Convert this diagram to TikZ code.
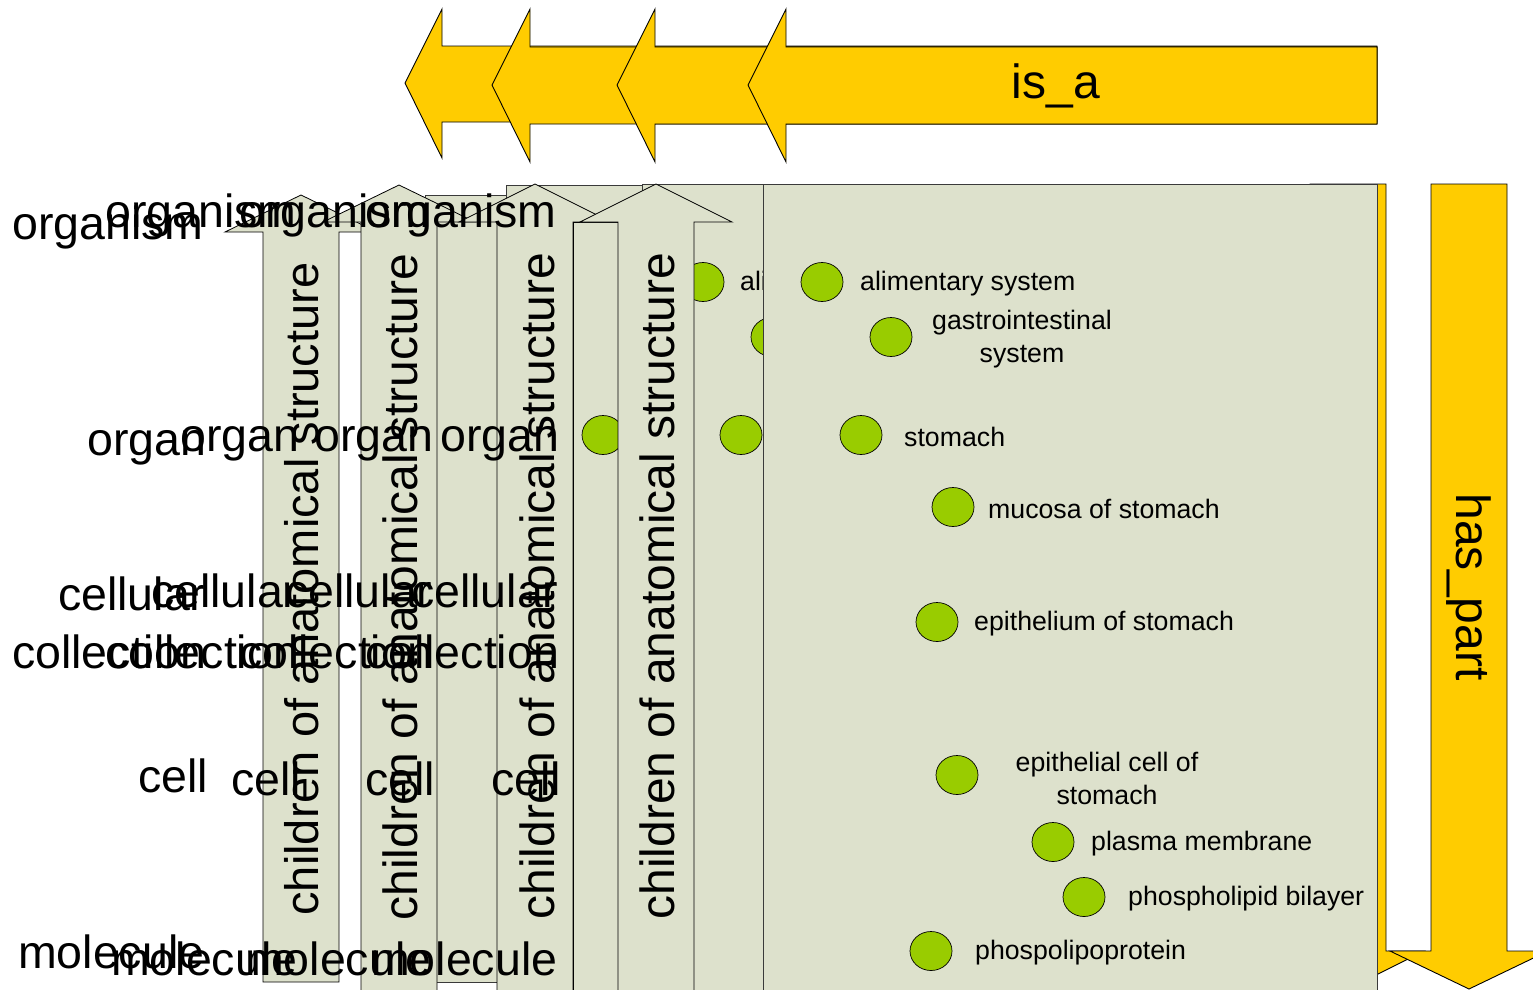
\documentclass[tikz,border=0pt]{standalone}
\usepackage{fontspec}
\setmainfont{Liberation Sans}
\usetikzlibrary{shapes.geometric}
\definecolor{isayellow}{HTML}{FFCC00}
\definecolor{panelgreen}{HTML}{DDE1CC}
\definecolor{dotgreen}{HTML}{99CC00}
\definecolor{edgegray}{HTML}{3A3A3A}

% tipx tipy backx headtop headbot shafttop shaftbot endx
\newcommand\IsaArrow[8]{%
 \draw[yel] (#1,#2) -- (#3,#4) -- (#3,#6) -- (#8,#6) -- (#8,#7) -- (#3,#7) -- (#3,#5) -- cycle;}
% cx tipy basey bottom
\newcommand\UpBlock[4]{%
 \draw[upbox] ({#1-38},#4) -- ({#1-38},#3) -- ({#1-76},#3) -- (#1,#2) -- ({#1+76},#3) -- ({#1+38},#3) -- ({#1+38},#4) -- cycle;}
% cx top basey tipy wing
\newcommand\DownBlock[5]{%
 \draw[yel] ({#1-38},#2) -- ({#1+38},#2) -- ({#1+38},#3) -- ({#1+#5},#3) -- (#1,#4) -- ({#1-#5},#3) -- ({#1-38},#3) -- cycle;}

\tikzset{
 yel/.style={fill=isayellow, draw=black, line width=0.9pt, line join=miter},
 pan/.style={fill=panelgreen, draw=edgegray, line width=0.9pt},
 upbox/.style={fill=panelgreen, draw=black, line width=0.8pt, line join=miter},
 dot/.style={ellipse, minimum width=42pt, minimum height=39pt, inner sep=0pt, fill=dotgreen, draw=black, line width=0.7pt},
 lvl/.style={font=\fontsize{46.5}{56}\selectfont, inner sep=0pt, anchor=base west},
 dlab/.style={font=\fontsize{26.7}{33}\selectfont, inner sep=0pt, anchor=west},
 dlab2/.style={font=\fontsize{26.7}{33}\selectfont, inner sep=0pt, align=center},
 vtext/.style={font=\fontsize{48}{56}\selectfont, rotate=90, inner sep=0pt},
 big/.style={font=\fontsize{48}{56}\selectfont, inner sep=0pt},
}

\begin{document}
\begin{tikzpicture}[x=1pt,y=-1pt]
\useasboundingbox (0,0) rectangle (1533,989);
\clip (0,0) rectangle (1533,989);

% is_a arrows
\IsaArrow{405}{83}{442}{9}{158}{46}{122}{1377}
\IsaArrow{492}{85}{530}{9}{162}{47}{124}{1377}
\IsaArrow{617}{85}{655}{9}{162}{47}{124}{1377}
\IsaArrow{748}{85}{786}{9}{162}{47}{124}{1377}
\node[big] (isa) at (1056,86) {is\_a};

% panel B and arrows 1, 2
\draw[pan] (425,195) rectangle (1377,982);
\UpBlock{301}{195}{232}{982}
\node[vtext, font=\fontsize{47}{56}\selectfont] (c1) at (302,589) {children of anatomical structure};
\UpBlock{399}{185}{222}{1000}
\node[vtext] (c2) at (400,587) {children of anatomical structure};

% panel C and arrow 3
\draw[pan] (506,185) rectangle (1377,1000);
\UpBlock{535}{184}{222}{1000}
\node[vtext] (c3) at (537,586) {children of anatomical structure};
\draw[upbox] (573,222) rectangle (618,1000);
\node[dot] (dC) at (603,435) {};

% panel D
\draw[pan] (642,184) rectangle (1377,1000);
\node[dot] (dDa) at (703,282) {};
\node[dlab] (lDa) at (740,284) {alimentary system};
\node[dot] (dDb) at (772,337) {};
\node[dot] (dDc) at (741,435) {};

% arrow 4
\UpBlock{656}{184}{222}{1000}
\node[vtext] (c4) at (657,586) {children of anatomical structure};

% back has_part arrow
\DownBlock{1348}{184}{951}{989}{76}

% panel E
\draw[pan] (763,184) rectangle (1377,1000);
\node[dot] (e1) at (822,282) {};
\node[dlab] (l1) at (860,284) {alimentary system};
\node[dot] (e2) at (891,337) {};
\node[dlab2] (l2) at (1022,339) {gastrointestinal\\system};
\node[dot] (e3) at (861,435) {};
\node[dlab] (l3) at (904,437) {stomach};
\node[dot] (e4) at (953,507) {};
\node[dlab] (l4) at (988,509) {mucosa of stomach};
\node[dot] (e5) at (937,622) {};
\node[dlab] (l5) at (974,624) {epithelium of stomach};
\node[dot] (e6) at (957,775) {};
\node[dlab2] (l6) at (1107,778) {epithelial cell of\\stomach};
\node[dot] (e7) at (1053,842) {};
\node[dlab] (l7) at (1091,844) {plasma membrane};
\node[dot] (e8) at (1084,897) {};
\node[dlab] (l8) at (1128,899) {phospholipid bilayer};
\node[dot] (e9) at (931,951) {};
\node[dlab] (l9) at (975,953) {phospolipoprotein};

% front has_part arrow
\DownBlock{1469}{184}{951}{989}{79}
\node[big, rotate=-90] (haspart) at (1469,587) {has\_part};

% level labels, copy A
\node[lvl] (aorg) at (12,239) {organism};
\node[lvl] (aorn) at (87,455) {organ};
\node[lvl] (acel) at (58,610) {cellular};
\node[lvl] (acol) at (12,668) {collection};
\node[lvl] (acll) at (138,792) {cell};
\node[lvl] (amol) at (18,968) {molecule};
% copies B, C, D
\foreach \dx/\nm in {93/b,227/c,353/d}{
 \node[lvl] (\nm org) at ({12+\dx},227) {organism};
 \node[lvl] (\nm orn) at ({87+\dx},451) {organ};
 \node[lvl] (\nm cel) at ({58+\dx},607) {cellular};
 \node[lvl] (\nm col) at ({12+\dx},668) {collection};
 \node[lvl] (\nm cll) at ({138+\dx},795) {cell};
 \node[lvl] (\nm mol) at ({18+\dx},975) {molecule};
}
\end{tikzpicture}
\end{document}
